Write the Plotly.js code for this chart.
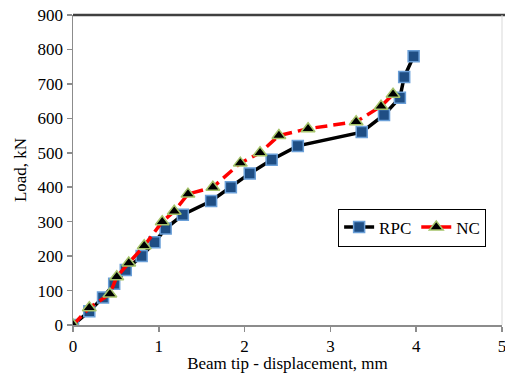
<!DOCTYPE html>
<html>
<head>
<meta charset="utf-8">
<script src="https://cdn.plot.ly/plotly-3.0.1.min.js"></script>
<style>html,body{margin:0;padding:0;background:#fff;}#chart{width:505px;height:373px;}</style>
</head>
<body>
<div id="chart"></div>
<script>
const rpcDisp = [0, 0.19, 0.35, 0.48, 0.615, 0.80, 0.95, 1.08, 1.28, 1.61, 1.84, 2.06, 2.315, 2.62, 3.365, 3.625, 3.81, 3.86, 3.97];
const rpcLoad = [0, 40, 80, 120, 160, 200, 240, 280, 320, 360, 400, 440, 480, 520, 560, 610, 660, 720, 780];
const ncDisp = [0, 0.19, 0.43, 0.51, 0.65, 0.83, 1.04, 1.18, 1.34, 1.63, 1.95, 2.18, 2.40, 2.74, 3.30, 3.59, 3.73];
const ncLoad = [0, 50, 90, 140, 180, 230, 300, 330, 380, 400, 470, 500, 550, 570, 590, 635, 670];
const seriesNames = ["RPC", "NC"];
const xTicks = [0, 1, 2, 3, 4, 5];
const yTicks = [0, 100, 200, 300, 400, 500, 600, 700, 800, 900];

function mkFont(fam) { return {family: fam || "Liberation Serif", size: 17, color: "#000000"}; }

const traces = [
  {
    x: rpcDisp, y: rpcLoad, name: seriesNames[0], type: "scatter", mode: "lines+markers",
    line: {color: "#000000", width: 3.5},
    marker: {symbol: "square", size: 11, color: "#1F4E84", line: {color: "#6A9FD8", width: 1.5}}
  },
  {
    x: ncDisp, y: ncLoad, name: seriesNames[1], type: "scatter", mode: "lines+markers",
    line: {color: "#FF0000", width: 3.5, dash: "12px,6px"},
    marker: {symbol: "triangle-up", size: 12, color: "#000000", line: {color: "#A5C46A", width: 1.5}}
  }
];

const layout = {
  width: 505, height: 373,
  margin: {l: 73, r: 3, t: 15, b: 48},
  paper_bgcolor: "#ffffff", plot_bgcolor: "#ffffff",
  font: mkFont(),
  showlegend: true,
  legend: {
    orientation: "h", x: 0.618, xanchor: "left", y: 0.3145, yanchor: "middle",
    bgcolor: "#ffffff", bordercolor: "#000000", borderwidth: 1,
    font: mkFont(), itemwidth: 30
  },
  xaxis: {
    range: [0, 5], tickmode: "array", tickvals: xTicks, ticktext: xTicks.map(String),
    showgrid: false, zeroline: false, showline: true, linecolor: "#8C8C8C", linewidth: 1.5,
    ticks: "outside", ticklen: 5, tickcolor: "#8C8C8C", tickwidth: 1.5,
    tickfont: mkFont("Times New Roman"), ticklabeloverflow: "allow",
    title: {text: "Beam tip - displacement, mm", font: mkFont(), standoff: 8}
  },
  yaxis: {
    range: [0, 900], tickmode: "array", tickvals: yTicks, ticktext: yTicks.map(String),
    showgrid: false, zeroline: false, showline: true, linecolor: "#8C8C8C", linewidth: 1.5,
    ticks: "outside", ticklen: 5, tickcolor: "#8C8C8C", tickwidth: 1.5,
    tickfont: mkFont("Times New Roman"),
    title: {text: "Load, kN", font: mkFont(), standoff: 6}
  },
  shapes: [
    {type: "line", xref: "paper", yref: "paper", x0: 0, x1: 1.01, y0: 1, y1: 1, line: {color: "#404040", width: 2.5}},
    {type: "line", xref: "paper", yref: "paper", x0: 1, x1: 1, y0: 0, y1: 1, line: {color: "#D9D9D9", width: 1}}
  ]
};

Plotly.newPlot("chart", traces, layout, {displayModeBar: false, staticPlot: true});
</script>
</body>
</html>
